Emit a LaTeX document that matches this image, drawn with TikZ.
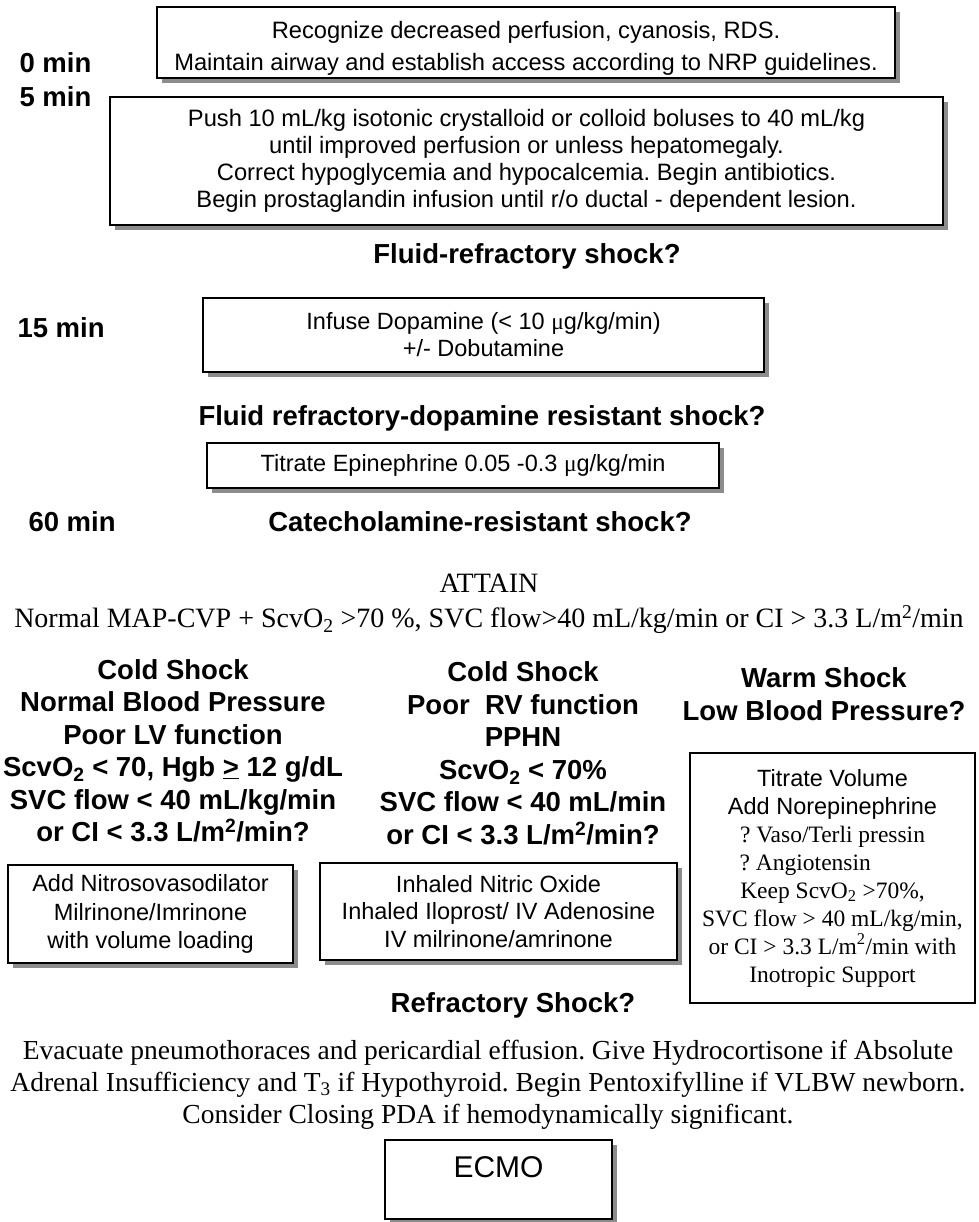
\documentclass[tikz,border=0pt]{standalone}
\usepackage{fontspec}
\setmainfont{Liberation Serif}
\setsansfont{Liberation Sans}
\usetikzlibrary{shadows}
\frenchspacing

\begin{document}
\begin{tikzpicture}[
  x=1pt, y=-1pt,
  box/.style={draw=black, line width=1.6pt, fill=white, inner sep=0pt, align=center,
    drop shadow={shadow xshift=5pt, shadow yshift=-5pt, fill=black!45, opacity=1},
    font=\sffamily\fontsize{23.5}{28.5}\selectfont},
  plainbox/.style={draw=black, line width=1.4pt, fill=white, inner sep=0pt, align=center},
  timelabel/.style={anchor=west, font=\sffamily\bfseries\fontsize{27.5}{32}\selectfont},
  question/.style={align=center, font=\sffamily\bfseries\fontsize{27.5}{32.5}\selectfont},
  prose/.style={align=center, font=\rmfamily\fontsize{28}{34}\selectfont}
]
\path[use as bounding box, fill=white] (0,0) rectangle (978,1222);

% first hour
\node[box, minimum width=738pt, minimum height=71pt, font=\sffamily\fontsize{23.7}{32}\selectfont] (recognize) at (526,42.5) {\rule{0pt}{29pt}Recognize decreased perfusion, cyanosis, RDS.\\
Maintain airway and establish access according to NRP guidelines.};

\node[timelabel] (tzero) at (16,63) {0 min};
\node[timelabel] (tfive) at (16,97) {5 min};

\node[box, minimum width=833pt, minimum height=128pt, font=\sffamily\fontsize{23.7}{27}\selectfont] (fluids) at (526.5,161) {Push 10 mL/kg isotonic crystalloid or colloid boluses to 40 mL/kg\\
until improved perfusion or unless hepatomegaly.\\
Correct hypoglycemia and hypocalcemia. Begin antibiotics.\\
Begin prostaglandin infusion until r/o ductal - dependent lesion.};

\node[question] (fluidq) at (527,256) {Fluid-refractory shock?};

\node[timelabel] (tfifteen) at (14,328) {15 min};
\node[box, minimum width=561pt, minimum height=74pt, font=\sffamily\fontsize{23.5}{27}\selectfont] (dopamine) at (483.5,335) {Infuse Dopamine (< 10 {\rmfamily μ}g/kg/min)\\
+/- Dobutamine};

\node[question] (dopaq) at (482,418) {Fluid refractory-dopamine resistant shock?};
\node[box, minimum width=512pt, minimum height=45pt] (epi) at (463,465.5) {Titrate Epinephrine 0.05 -0.3 {\rmfamily μ}g/kg/min};

\node[timelabel] (tsixty) at (25,522) {60 min};
\node[question] (catq) at (480,522) {Catecholamine-resistant shock?};

\node[prose] (attain) at (489,583) {ATTAIN};
\node[prose] (goals) at (489,620) {Normal MAP-CVP + ScvO\textsubscript{2} >70 \%, SVC flow>40 mL/kg/min or CI > 3.3 L/m\textsuperscript{2}/min};

% three shock types
\node[question] (coldlv) at (173,751) {Cold Shock\\
Normal Blood Pressure\\
Poor LV function\\
ScvO\textsubscript{2} < 70, Hgb \underline{>} 12 g/dL\\
SVC flow < 40 mL/kg/min\\
or CI < 3.3 L/m\textsuperscript{2}/min?};
\node[question] (coldrv) at (523,753.5) {Cold Shock\\
Poor\ \ RV function\\
PPHN\\
ScvO\textsubscript{2} < 70\%\\
SVC flow < 40 mL/min\\
or CI < 3.3 L/m\textsuperscript{2}/min?};
\node[question] (warmq) at (824,694) {Warm Shock\\
Low Blood Pressure?};

\node[box, minimum width=285pt, minimum height=98pt] (nitroso) at (150.5,914) {Add Nitrosovasodilator\\
Milrinone/Imrinone\\
with volume loading};
\node[box, minimum width=357pt, minimum height=97pt, font=\sffamily\fontsize{23.5}{27.5}\selectfont] (inhaled) at (498.5,911.5) {Inhaled Nitric Oxide\\
Inhaled Iloprost/ IV Adenosine\\
IV milrinone/amrinone};
\node[plainbox, minimum width=285pt, minimum height=250pt, font=\rmfamily\fontsize{23.5}{28}\selectfont] (warmbox) at (832.5,878) {{\sffamily Titrate Volume}\\
{\sffamily Add Norepinephrine}\\
?\ Vaso/Terli pressin\\
\makebox[7.9em][l]{?\ Angiotensin}\\
Keep ScvO\textsubscript{2} >70\%,\\
SVC flow > 40 mL/kg/min,\\
or CI > 3.3 L/m\textsuperscript{2}/min with\\
Inotropic Support};

% last step
\node[question] (refrq) at (513,1005) {Refractory Shock?};
\node[prose, font=\rmfamily\fontsize{27.5}{32}\selectfont] (rescue) at (488,1085) {Evacuate pneumothoraces and pericardial effusion. Give Hydrocortisone if Absolute\\
Adrenal Insufficiency and T\textsubscript{3} if Hypothyroid. Begin Pentoxifylline if VLBW newborn.\\
Consider Closing PDA if hemodynamically significant.};

\node[box, minimum width=227pt, minimum height=79pt,
  label={[name=ecmotext, anchor=north, inner sep=0pt, yshift=-17pt, font=\sffamily\fontsize{30}{36}\selectfont]north:ECMO}] (ecmo) at (498.5,1179.5) {};

\end{tikzpicture}
\end{document}
